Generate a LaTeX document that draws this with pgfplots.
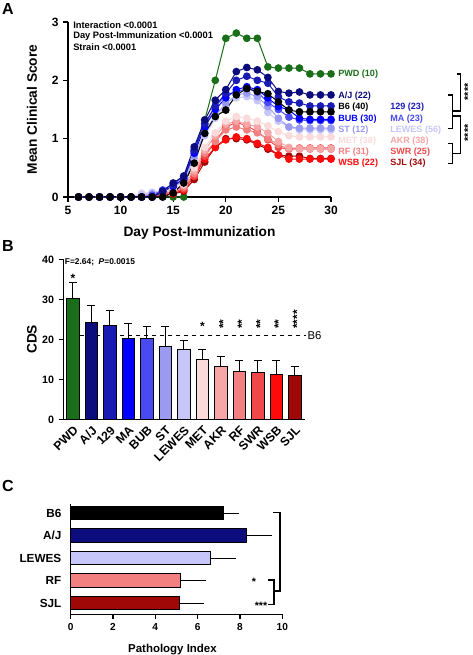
\documentclass[border=0pt]{standalone}
\usepackage{pgfplots}
\usepackage{pgfplotstable}
\pgfplotsset{compat=1.18}
\usepackage{fontspec}
\setmainfont{Liberation Sans}
\definecolor{cPWD}{HTML}{1A6E1A}
\definecolor{cAJ}{HTML}{0C0C7C}
\definecolor{c129}{HTML}{1A1AB4}
\definecolor{cMA}{HTML}{0000FF}
\definecolor{cBUB}{HTML}{4A4AF2}
\definecolor{cST}{HTML}{9A9AF0}
\definecolor{cLEWES}{HTML}{C6C6FA}
\definecolor{cMET}{HTML}{FADADA}
\definecolor{cAKR}{HTML}{F6A6A6}
\definecolor{cRF}{HTML}{F28080}
\definecolor{cSWR}{HTML}{F04848}
\definecolor{cWSB}{HTML}{FF0A0A}
\definecolor{cSJL}{HTML}{A00808}

\pgfplotstableread{
day PWD AJ S129 B6 MA BUB ST LEWES MET AKR RF SWR WSB SJL
6 0 0 0 0 0 0 0 0 0 0 0 0 0 0
7 0 0 0 0 0 0 0 0 0 0 0 0 0 0
8 0 0 0 0 0 0 0 0 0 0 0 0 0 0
9 0 0 0 0 0 0 0 0 0 0 0 0 0 0
10 0 0 0 0 0 0 0 0 0 0 0 0 0 0
11 0 0 0 0 0 0 0 0 0 0 0 0 0 0
12 0 0 0 0 0 0 0 0.05 0.07 0.03 0 0 0 0
13 0 0 0 0 0 0.03 0.05 0.08 0.07 0.05 0.03 0 0 0
14 0 0.10 0.08 0 0.10 0.12 0.10 0.12 0.10 0.08 0.05 0.05 0.03 0.03
15 0 0.24 0.20 0.07 0.18 0.22 0.18 0.18 0.15 0.12 0.10 0.08 0.06 0.05
16 0 0.36 0.30 0.24 0.32 0.35 0.28 0.25 0.22 0.20 0.17 0.14 0.12 0.10
17 0.78 0.86 0.80 0.58 0.75 0.82 0.70 0.65 0.50 0.45 0.40 0.36 0.35 0.30
18 1.32 1.32 1.25 1.09 1.20 1.26 1.10 1.05 0.85 0.80 0.75 0.70 0.65 0.60
19 2.00 1.66 1.56 1.38 1.50 1.55 1.40 1.35 1.10 1.05 0.95 0.95 0.85 0.85
20 2.72 1.84 1.78 1.49 1.70 1.75 1.60 1.55 1.30 1.25 1.15 1.20 0.98 1.00
21 2.81 2.15 2.00 1.75 1.84 1.80 1.75 1.70 1.38 1.30 1.20 1.28 1.03 1.00
22 2.72 2.22 2.07 1.86 1.89 1.86 1.78 1.72 1.35 1.25 1.15 1.22 1.00 0.98
23 2.72 2.18 2.00 1.81 1.84 1.80 1.72 1.65 1.30 1.20 1.10 1.12 0.92 0.90
24 2.23 2.05 1.95 1.77 1.70 1.62 1.55 1.45 1.22 1.10 1.00 0.98 0.85 0.82
25 2.21 1.81 1.72 1.63 1.55 1.50 1.35 1.30 1.12 0.95 0.90 0.85 0.72 0.72
26 2.21 1.78 1.63 1.49 1.49 1.37 1.20 1.20 1.05 0.85 0.82 0.82 0.65 0.70
27 2.21 1.80 1.61 1.46 1.35 1.32 1.18 1.15 1.03 0.83 0.82 0.84 0.65 0.70
28 2.11 1.75 1.56 1.46 1.33 1.31 1.18 1.15 1.03 0.83 0.82 0.84 0.65 0.66
29 2.11 1.75 1.56 1.46 1.33 1.31 1.18 1.15 1.03 0.83 0.82 0.84 0.65 0.66
30 2.11 1.75 1.56 1.46 1.33 1.31 1.18 1.15 1.03 0.83 0.82 0.84 0.65 0.66
}\clinical

\pgfplotsset{
  ser/.style={line width=0.75pt, color=#1, mark=*, mark size=2.5pt, mark options={fill=#1, draw=#1, solid}},
  prism/.style={
    scale only axis, axis lines=left, axis line style={line width=0.9pt,-},
    tick align=outside, major tick length=3.5pt,
    tick style={line width=0.9pt, black},
    /pgf/number format/assume math mode=true,
    clip=false,
  },
  cbar/.style={fill=#1, draw=black, line width=0.7pt, bar shift=0pt},
}

\begin{document}
\begin{tikzpicture}
\useasboundingbox (0,0) rectangle (354pt,-491.25pt);

% ---------------- Panel A
\begin{axis}[prism,
  at={(51pt,-147.75pt)}, anchor=south west,
  width=197.25pt, height=131.25pt,
  xmin=5, xmax=30, ymin=0, ymax=3,
  xtick={5,10,...,30}, ytick={0,1,2,3},
  tick label style={font=\bfseries\fontsize{9}{9}\selectfont},
  xlabel={Day Post-Immunization}, ylabel={Mean Clinical Score},
  label style={font=\bfseries\fontsize{10.3}{10.3}\selectfont},
  xlabel style={at={(axis description cs:0.5,-0.206)}, anchor=center},
  ylabel style={at={(axis description cs:-0.137,0.5)}, anchor=center},
]
\addplot[ser=cPWD] table[x=day,y=PWD] {\clinical};
\addplot[ser=cSJL] table[x=day,y=SJL] {\clinical};
\addplot[ser=cWSB] table[x=day,y=WSB] {\clinical};
\addplot[ser=cSWR] table[x=day,y=SWR] {\clinical};
\addplot[ser=cRF] table[x=day,y=RF] {\clinical};
\addplot[ser=cAKR] table[x=day,y=AKR] {\clinical};
\addplot[ser=cMET] table[x=day,y=MET] {\clinical};
\addplot[ser=cLEWES] table[x=day,y=LEWES] {\clinical};
\addplot[ser=cST] table[x=day,y=ST] {\clinical};
\addplot[ser=cBUB] table[x=day,y=BUB] {\clinical};
\addplot[ser=cMA] table[x=day,y=MA] {\clinical};
\addplot[ser=c129] table[x=day,y=S129] {\clinical};
\addplot[ser=cAJ] table[x=day,y=AJ] {\clinical};
\addplot[ser=black] table[x=day,y=B6] {\clinical};
\end{axis}

% ---------------- Panel B
\begin{axis}[prism,
  at={(47.5pt,-314.5pt)}, anchor=south west,
  width=181.3pt, height=120pt,
  xmin=-0.52, xmax=12.55, ymin=0, ymax=40,
  ytick={0,10,20,30,40},
  xtick={0,...,12},
  xticklabels={PWD,A/J,129,MA,BUB,ST,LEWES,MET,AKR,RF,SWR,WSB,SJL},
  x tick style={draw=none},
  yticklabel style={font=\bfseries\fontsize{8}{8}\selectfont},
  xticklabel style={font=\bfseries\fontsize{9.2}{9.2}\selectfont, rotate=45, anchor=north east, inner sep=0.5pt},
  ylabel={CDS},
  ylabel style={font=\bfseries\fontsize{10.3}{10.3}\selectfont, at={(axis description cs:-0.13,0.5)}, anchor=center},
  ybar, bar width=9.6pt,
  error bars/y dir=plus, error bars/y explicit,
  error bars/error bar style={line width=0.7pt, black},
  error bars/error mark options={line width=0.7pt, mark size=3pt, black, rotate=90},
]
\addplot[sharp plot, black, dashed, line width=0.6pt, forget plot] coordinates {(0.38,20.9) (12.6,20.9)};
\addplot[cbar=cPWD] coordinates {(0,30.3) +- (0,3.9)};
\addplot[cbar=cAJ] coordinates {(1,24.2) +- (0,4.2)};
\addplot[cbar=c129] coordinates {(2,23.5) +- (0,3.8)};
\addplot[cbar=cMA] coordinates {(3,20.2) +- (0,3.8)};
\addplot[cbar=cBUB] coordinates {(4,20.1) +- (0,3.2)};
\addplot[cbar=cST] coordinates {(5,18.2) +- (0,5.0)};
\addplot[cbar=cLEWES] coordinates {(6,17.5) +- (0,2.2)};
\addplot[cbar=cMET] coordinates {(7,15.0) +- (0,2.5)};
\addplot[cbar=cAKR] coordinates {(8,13.2) +- (0,2.6)};
\addplot[cbar=cRF] coordinates {(9,12.0) +- (0,2.7)};
\addplot[cbar=cSWR] coordinates {(10,11.75) +- (0,3.0)};
\addplot[cbar=cWSB] coordinates {(11,11.3) +- (0,3.4)};
\addplot[cbar=cSJL] coordinates {(12,11.0) +- (0,2.3)};
\node[anchor=west, font=\fontsize{8.5}{8.5}\selectfont, inner sep=1pt] at (axis cs:12.6,20.9) {B6};
\node[anchor=south west, font=\bfseries\fontsize{6.3}{6.3}\selectfont, inner sep=0pt] at (axis cs:-0.45,38.2) {F=2.64;\ \ \textit{P}=0.0015};
\node[font=\bfseries\fontsize{9}{9}\selectfont] at (axis cs:0,35.2) {*};
\node[font=\bfseries\fontsize{9}{9}\selectfont] at (axis cs:7,23.3) {*};
\node[rotate=90, anchor=west, inner sep=0pt, font=\bfseries\fontsize{9}{9}\selectfont] at (axis cs:8.12,22.6) {**};
\node[rotate=90, anchor=west, inner sep=0pt, font=\bfseries\fontsize{9}{9}\selectfont] at (axis cs:9.12,22.6) {**};
\node[rotate=90, anchor=west, inner sep=0pt, font=\bfseries\fontsize{9}{9}\selectfont] at (axis cs:10.12,22.6) {**};
\node[rotate=90, anchor=west, inner sep=0pt, font=\bfseries\fontsize{9}{9}\selectfont] at (axis cs:11.12,22.6) {**};
\node[rotate=90, anchor=west, inner sep=0pt, font=\bfseries\fontsize{9}{9}\selectfont] at (axis cs:12.12,22.6) {****};
\end{axis}

% ---------------- Panel C
\begin{axis}[prism,
  at={(53pt,-460.7pt)}, anchor=south west,
  width=158.7pt, height=82.7pt,
  xmin=0, xmax=10, ymin=-0.5, ymax=4.4,
  xtick={0,2,...,10}, ytick={0,...,4},
  yticklabels={SJL,RF,LEWES,A/J,B6},
  y tick style={draw=none},
  xticklabel style={font=\bfseries\fontsize{7.6}{7.6}\selectfont},
  yticklabel style={font=\bfseries\fontsize{8.8}{8.8}\selectfont},
  xlabel={Pathology Index},
  xlabel style={font=\bfseries\fontsize{8.6}{8.6}\selectfont, at={(axis description cs:0.481,-0.324)}, anchor=center},
  xbar, bar width=10.1pt,
  error bars/x dir=plus, error bars/x explicit,
  error bars/error bar style={line width=0.7pt, black},
  error bars/error mark options={line width=0.7pt, mark size=3pt, black},
]
\addplot[cbar=black] coordinates {(7.24,4) +- (0.53,0)};
\addplot[cbar=cAJ] coordinates {(8.32,3) +- (1.02,0)};
\addplot[cbar=cLEWES] coordinates {(6.62,2) +- (0.99,0)};
\addplot[cbar=cRF] coordinates {(5.20,1) +- (0.99,0)};
\addplot[cbar=cSJL] coordinates {(5.13,0) +- (0.98,0)};
\end{axis}

% ---------------- annotations (pixel coordinates)
\begin{scope}[x=0.75pt,y=-0.75pt]
\node[font=\bfseries\fontsize{12}{12}\selectfont] at (8,9) {A};
\node[font=\bfseries\fontsize{12}{12}\selectfont] at (8,246) {B};
\node[font=\bfseries\fontsize{12}{12}\selectfont] at (8,486) {C};

\begin{scope}[every node/.style={anchor=west, inner sep=0pt, font=\bfseries\fontsize{7}{7}\selectfont}]
\node at (73,25) {Interaction <0.0001};
\node at (73,36) {Day Post-Immunization <0.0001};
\node at (73,47) {Strain <0.0001};
\end{scope}

\begin{scope}[every node/.style={anchor=west, inner sep=0pt, font=\bfseries\fontsize{6.8}{6.8}\selectfont}]
\node[text=cPWD] at (338,74) {PWD (10)};
\node[text=cAJ] at (338,96) {A/J (22)};
\node[text=black] at (338,107.3) {B6 (40)};
\node[text=cMA] at (338,119) {BUB (30)};
\node[text=cST] at (338,130) {ST (12)};
\node[text=cMET] at (338,141) {MET (38)};
\node[text=cRF] at (338,151.7) {RF (31)};
\node[text=cWSB] at (338,162.7) {WSB (22)};
\node[text=c129] at (390,107.3) {129 (23)};
\node[text=cBUB] at (390,119) {MA (23)};
\node[text=cLEWES] at (390,130) {LEWES (56)};
\node[text=cAKR] at (390,141) {AKR (38)};
\node[text=cSWR] at (390,151.7) {SWR (25)};
\node[text=cSJL] at (390,162.7) {SJL (34)};
\end{scope}

\begin{scope}[line width=0.8pt]
\draw (456.7,74) -- (460.7,74) -- (460.7,111) -- (452.3,111);
\draw (448.3,95) -- (452.3,95) -- (452.3,128.3) -- (448.3,128.3);
\draw (452.3,116) -- (460.7,116) -- (460.7,153.3) -- (452.3,153.3);
\draw (448.3,143.3) -- (452.3,143.3) -- (452.3,163.3) -- (448.3,163.3);
\draw (273.3,512.7) -- (280,512.7) -- (280,591) -- (274,591);
\draw (268.3,580) -- (274,580) -- (274,604.5) -- (268.3,604.5);
\end{scope}
\node[rotate=90, font=\bfseries\fontsize{8}{8}\selectfont, inner sep=0pt] at (468,92) {****};
\node[rotate=90, font=\bfseries\fontsize{8}{8}\selectfont, inner sep=0pt] at (468,133) {****};
\node[font=\bfseries\fontsize{8}{8}\selectfont, inner sep=0pt] at (254,582) {*};
\node[font=\bfseries\fontsize{8}{8}\selectfont, inner sep=0pt] at (261,606) {***};
\end{scope}
\end{tikzpicture}
\end{document}
